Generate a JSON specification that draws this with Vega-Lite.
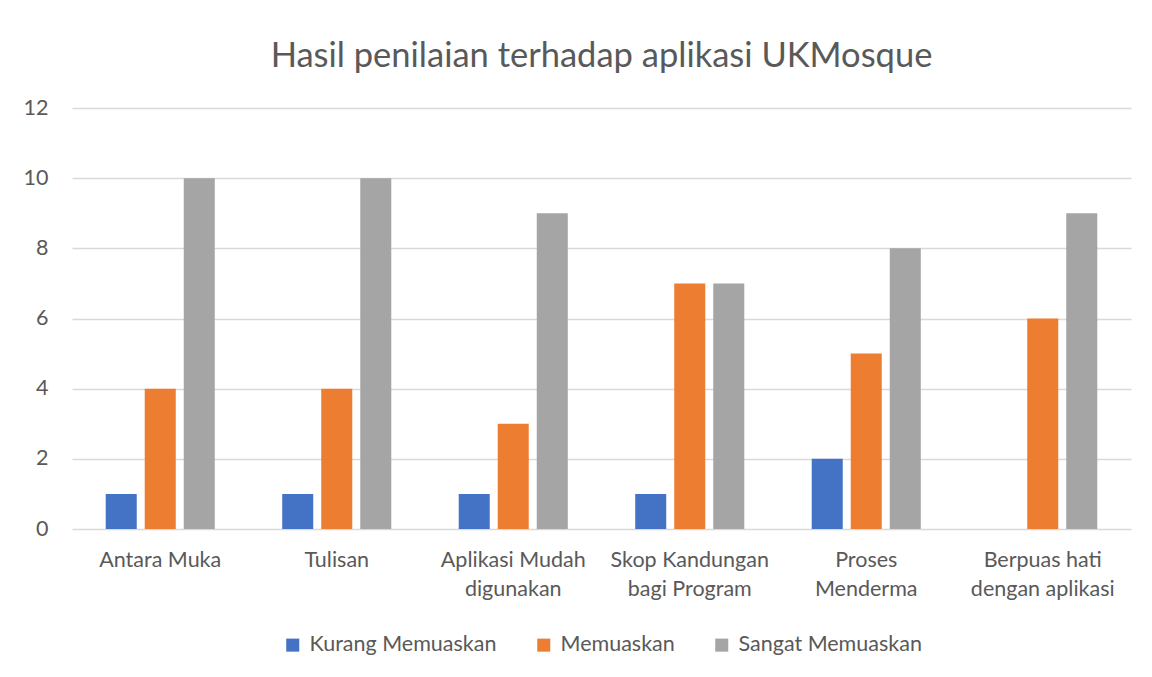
{
  "$schema": "https://vega.github.io/schema/vega-lite/v6.json",
  "autosize": "none",
  "width": 1059,
  "height": 421,
  "padding": {"left": 72, "top": 108, "right": 21, "bottom": 148},
  "background": "white",
  "title": {
    "text": "Hasil penilaian terhadap aplikasi UKMosque",
    "font": "Lato",
    "fontSize": 34.5,
    "fontWeight": "normal",
    "color": "#595959",
    "anchor": "middle",
    "offset": 23
  },
  "data": {
    "values": [
      {"kategori": "Antara Muka", "siri": "Kurang Memuaskan", "nilai": 1},
      {"kategori": "Antara Muka", "siri": "Memuaskan", "nilai": 4},
      {"kategori": "Antara Muka", "siri": "Sangat Memuaskan", "nilai": 10},
      {"kategori": "Tulisan", "siri": "Kurang Memuaskan", "nilai": 1},
      {"kategori": "Tulisan", "siri": "Memuaskan", "nilai": 4},
      {"kategori": "Tulisan", "siri": "Sangat Memuaskan", "nilai": 10},
      {"kategori": "Aplikasi Mudah digunakan", "siri": "Kurang Memuaskan", "nilai": 1},
      {"kategori": "Aplikasi Mudah digunakan", "siri": "Memuaskan", "nilai": 3},
      {"kategori": "Aplikasi Mudah digunakan", "siri": "Sangat Memuaskan", "nilai": 9},
      {"kategori": "Skop Kandungan bagi Program", "siri": "Kurang Memuaskan", "nilai": 1},
      {"kategori": "Skop Kandungan bagi Program", "siri": "Memuaskan", "nilai": 7},
      {"kategori": "Skop Kandungan bagi Program", "siri": "Sangat Memuaskan", "nilai": 7},
      {"kategori": "Proses Menderma", "siri": "Kurang Memuaskan", "nilai": 2},
      {"kategori": "Proses Menderma", "siri": "Memuaskan", "nilai": 5},
      {"kategori": "Proses Menderma", "siri": "Sangat Memuaskan", "nilai": 8},
      {"kategori": "Berpuas hati dengan aplikasi", "siri": "Kurang Memuaskan", "nilai": 0},
      {"kategori": "Berpuas hati dengan aplikasi", "siri": "Memuaskan", "nilai": 6},
      {"kategori": "Berpuas hati dengan aplikasi", "siri": "Sangat Memuaskan", "nilai": 9}
    ]
  },
  "mark": {"type": "bar"},
  "encoding": {
    "x": {
      "field": "kategori",
      "type": "nominal",
      "sort": null,
      "scale": {"paddingInner": 0.382, "paddingOuter": 0.191},
      "axis": {
        "title": null,
        "labelAngle": 0,
        "domain": false,
        "ticks": false,
        "labelPadding": 20,
        "labelFont": "Lato",
        "labelFontSize": 21.5,
        "labelColor": "#595959",
        "labelLineHeight": 29,
        "labelLimit": 200,
        "labelExpr": "datum.label == 'Aplikasi Mudah digunakan' ? ['Aplikasi Mudah','digunakan'] : datum.label == 'Skop Kandungan bagi Program' ? ['Skop Kandungan','bagi Program'] : datum.label == 'Proses Menderma' ? ['Proses','Menderma'] : datum.label == 'Berpuas hati dengan aplikasi' ? ['Berpuas hati','dengan aplikasi'] : datum.label"
      }
    },
    "xOffset": {
      "field": "siri",
      "type": "nominal",
      "sort": ["Kurang Memuaskan", "Memuaskan", "Sangat Memuaskan"],
      "scale": {"paddingInner": 0.205, "paddingOuter": 0}
    },
    "y": {
      "field": "nilai",
      "type": "quantitative",
      "scale": {"domain": [0, 12]},
      "axis": {
        "title": null,
        "values": [0, 2, 4, 6, 8, 10, 12],
        "domain": false,
        "ticks": false,
        "labelPadding": 24,
        "labelFont": "Lato",
        "labelFontSize": 21.5,
        "labelColor": "#595959",
        "gridColor": "#d9d9d9",
        "gridWidth": 1.3
      }
    },
    "color": {
      "field": "siri",
      "type": "nominal",
      "sort": ["Kurang Memuaskan", "Memuaskan", "Sangat Memuaskan"],
      "scale": {
        "domain": ["Kurang Memuaskan", "Memuaskan", "Sangat Memuaskan"],
        "range": ["#4472C4", "#ED7D31", "#A5A5A5"]
      },
      "legend": {
        "title": null,
        "orient": "bottom",
        "direction": "horizontal",
        "offset": 34,
        "symbolType": "square",
        "symbolSize": 170,
        "symbolStrokeWidth": 0,
        "labelFont": "Lato",
        "labelFontSize": 21.5,
        "labelColor": "#595959",
        "labelOffset": 6,
        "labelLimit": 300,
        "columnPadding": 36
      }
    }
  },
  "config": {
    "view": {"stroke": null},
    "legend": {"layout": {"bottom": {"anchor": "middle"}}}
  }
}
